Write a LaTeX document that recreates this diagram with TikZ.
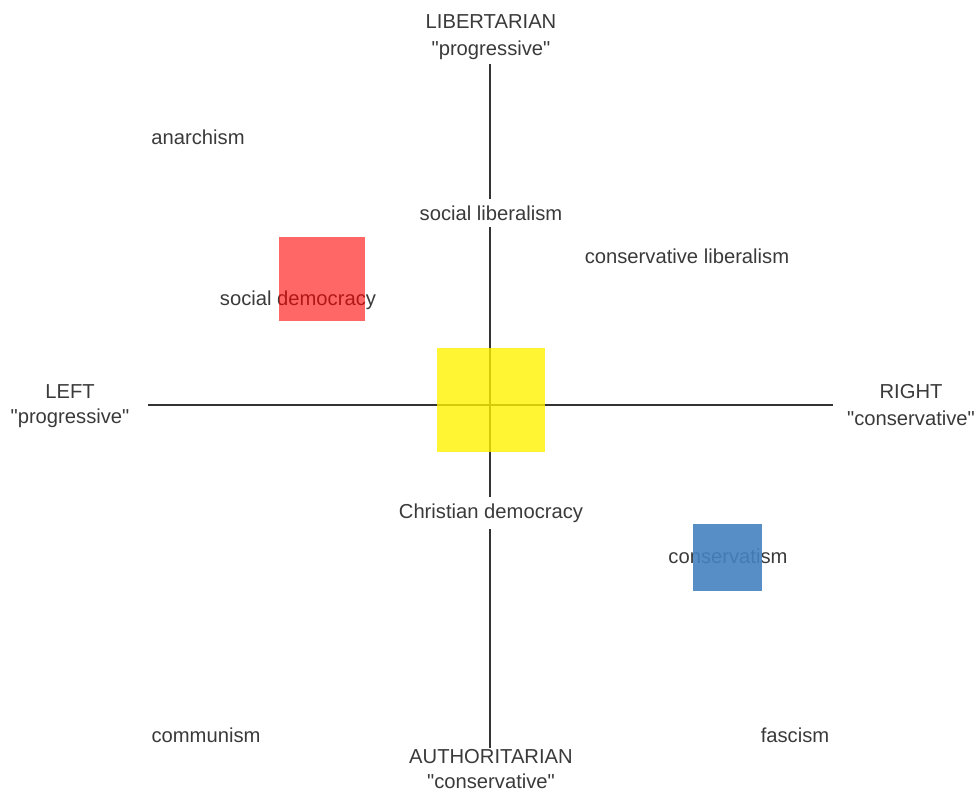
\documentclass[tikz,border=0pt]{standalone}
\usepackage{fontspec}
\setmainfont{Liberation Sans}[Ligatures=TeXOff]
\definecolor{txt}{HTML}{3A3A3A}
\definecolor{axis}{HTML}{333333}
\definecolor{bluesq}{HTML}{4682C0}
\begin{document}
\begin{tikzpicture}[x=0.02cm,y=-0.02cm,
  lbl/.style={inner sep=1pt,text=txt,font=\fontsize{11.5}{13}\selectfont},
  wlbl/.style={lbl,fill=white,inner sep=4pt},
  ax/.style={draw=axis,line width=0.6pt}]
\useasboundingbox (0,0) rectangle (974,790);
% axes ends
\coordinate (top) at (490,64);
\coordinate (bot) at (490,748);
\coordinate (lft) at (148,405);
\coordinate (rgt) at (833,405);
\draw[ax] (lft) -- (rgt);
\draw[ax] (top) -- (bot);
% labels
\node[lbl] (lib) at (491,22) {LIBERTARIAN};
\node[lbl] (libp) at (491,50) {"progressive"};
\node[lbl] (auth) at (491,757) {AUTHORITARIAN};
\node[lbl] (authc) at (491,781) {"conservative"};
\node[lbl] (left) at (70,392) {LEFT};
\node[lbl] (leftp) at (70,418) {"progressive"};
\node[lbl] (right) at (911,392) {RIGHT};
\node[lbl] (rightc) at (911,418) {"conservative"};
\node[lbl] (anar) at (198,137) {anarchism};
\node[wlbl] (socl) at (491,213) {social liberalism};
\node[lbl] (consl) at (687,256) {conservative liberalism};
\node[lbl] (socd) at (298,300) {social democracy};
\node[wlbl] (chrd) at (491,513) {Christian democracy};
\node[lbl] (cons) at (728,556) {conservatism};
\node[lbl] (comm) at (206,735) {communism};
\node[lbl] (fasc) at (795,735) {fascism};
% squares
\fill[red,opacity=0.6] (279,237) rectangle (365,321);
\fill[yellow,opacity=0.8] (437,348) rectangle (545,452);
\fill[bluesq,opacity=0.9] (693,524) rectangle (762,591);
\end{tikzpicture}
\end{document}
